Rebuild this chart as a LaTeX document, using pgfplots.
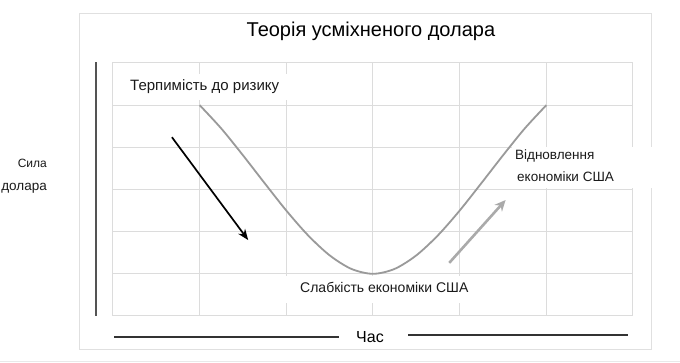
\documentclass[border=0pt]{standalone}
\usepackage{pgfplots}
\pgfplotsset{compat=1.18}
\usepackage{fontspec}
\setmainfont{Liberation Sans}
\usetikzlibrary{arrows.meta}
\definecolor{gridgray}{HTML}{DCDCDC}
\definecolor{framegray}{HTML}{E0E0E0}
\definecolor{curvegray}{HTML}{9A9A9A}
\definecolor{arrowgray}{HTML}{AAAAAA}
\definecolor{txt}{HTML}{1A1A1A}
\begin{document}
\begin{tikzpicture}
\useasboundingbox (0,0) rectangle (680pt,363pt);
\fill[white] (0,0) rectangle (680pt,363pt);
\draw[color=framegray!70, line width=0.8pt] (0,2pt) -- (680pt,2pt);
\begin{axis}[
  at={(113pt,47pt)}, anchor=south west,
  scale only axis, width=520pt, height=253pt,
  xmin=0, xmax=6, ymin=0, ymax=6,
  xtick={0,1,2,3,4,5,6}, ytick={0,1,2,3,4,5,6},
  xticklabels={}, yticklabels={},
  major tick length=0pt,
  grid=major,
  grid style={draw=gridgray, line width=1pt},
  axis line style={draw=gridgray, line width=1pt},
  clip=false,
]
% outer frame
\draw[framegray, line width=1pt] (axis cs:-0.381,-0.783) rectangle (axis cs:6.208,7.162);
% white label boxes
\fill[white] (axis cs:0.046,5.122) rectangle (axis cs:2.04,5.739);
\fill[white] (axis cs:4.604,3.035) rectangle (axis cs:6.31,4.008);
\fill[white] (axis cs:1.985,0.308) rectangle (axis cs:4.408,0.949);
% dollar smile curve
\addplot[color=curvegray, line width=1.8pt, smooth] coordinates {
(1,5) (1.25,4.445) (1.5,3.81) (1.75,3.149) (2,2.5) (2.25,1.914) (2.5,1.438) (2.75,1.117) (3,1)
(3.25,1.117) (3.5,1.438) (3.75,1.914) (4,2.5) (4.25,3.149) (4.5,3.81) (4.75,4.445) (5,5)};
% arrows
\addplot[black, line width=1.7pt, -{Stealth[length=11pt,width=8.5pt]}] coordinates {(0.68,4.24) (1.56,1.80)};
\addplot[arrowgray, line width=2.6pt, -{Stealth[length=11pt,width=10pt]}] coordinates {(3.88,1.26) (4.53,2.75)};
% side lines
\draw[color=black!67, line width=2pt] (axis cs:-0.196,0) -- (axis cs:-0.196,6.02);
\draw[color=black!80, line width=1.2pt] (axis cs:0.012,-0.498) -- (axis cs:2.608,-0.498);
\draw[color=black!80, line width=1.2pt] (axis cs:3.404,-0.45) -- (axis cs:5.942,-0.45);
% texts
\node[anchor=base, inner sep=0pt, font=\fontsize{20}{24}\selectfont, text=black] at (axis cs:2.976,6.617) {Теорія усміхненого долара};
\node[anchor=base west, inner sep=0pt, font=\fontsize{15}{18}\selectfont, text=txt] at (axis cs:0.196,5.336) {Терпимість до ризику};
\node[anchor=base west, inner sep=0pt, font=\fontsize{13.5}{16}\selectfont, text=txt] at (axis cs:4.638,3.723) {Відновлення};
\node[anchor=base west, inner sep=0pt, font=\fontsize{13.5}{16}\selectfont, text=txt] at (axis cs:4.662,3.178) {економіки США};
\node[anchor=base west, inner sep=0pt, font=\fontsize{14}{17}\selectfont, text=txt] at (axis cs:2.158,0.569) {Слабкість економіки США};
\node[anchor=base east, inner sep=0pt, font=\fontsize{12}{14}\selectfont, text=txt] at (axis cs:-0.7615,3.51) {Сила};
\node[anchor=base east, inner sep=0pt, font=\fontsize{13.5}{16}\selectfont, text=txt] at (axis cs:-0.7615,2.988) {долара};
\node[anchor=base, inner sep=0pt, font=\fontsize{16}{19}\selectfont, text=black] at (axis cs:2.965,-0.617) {Час};
\end{axis}
\end{tikzpicture}
\end{document}
